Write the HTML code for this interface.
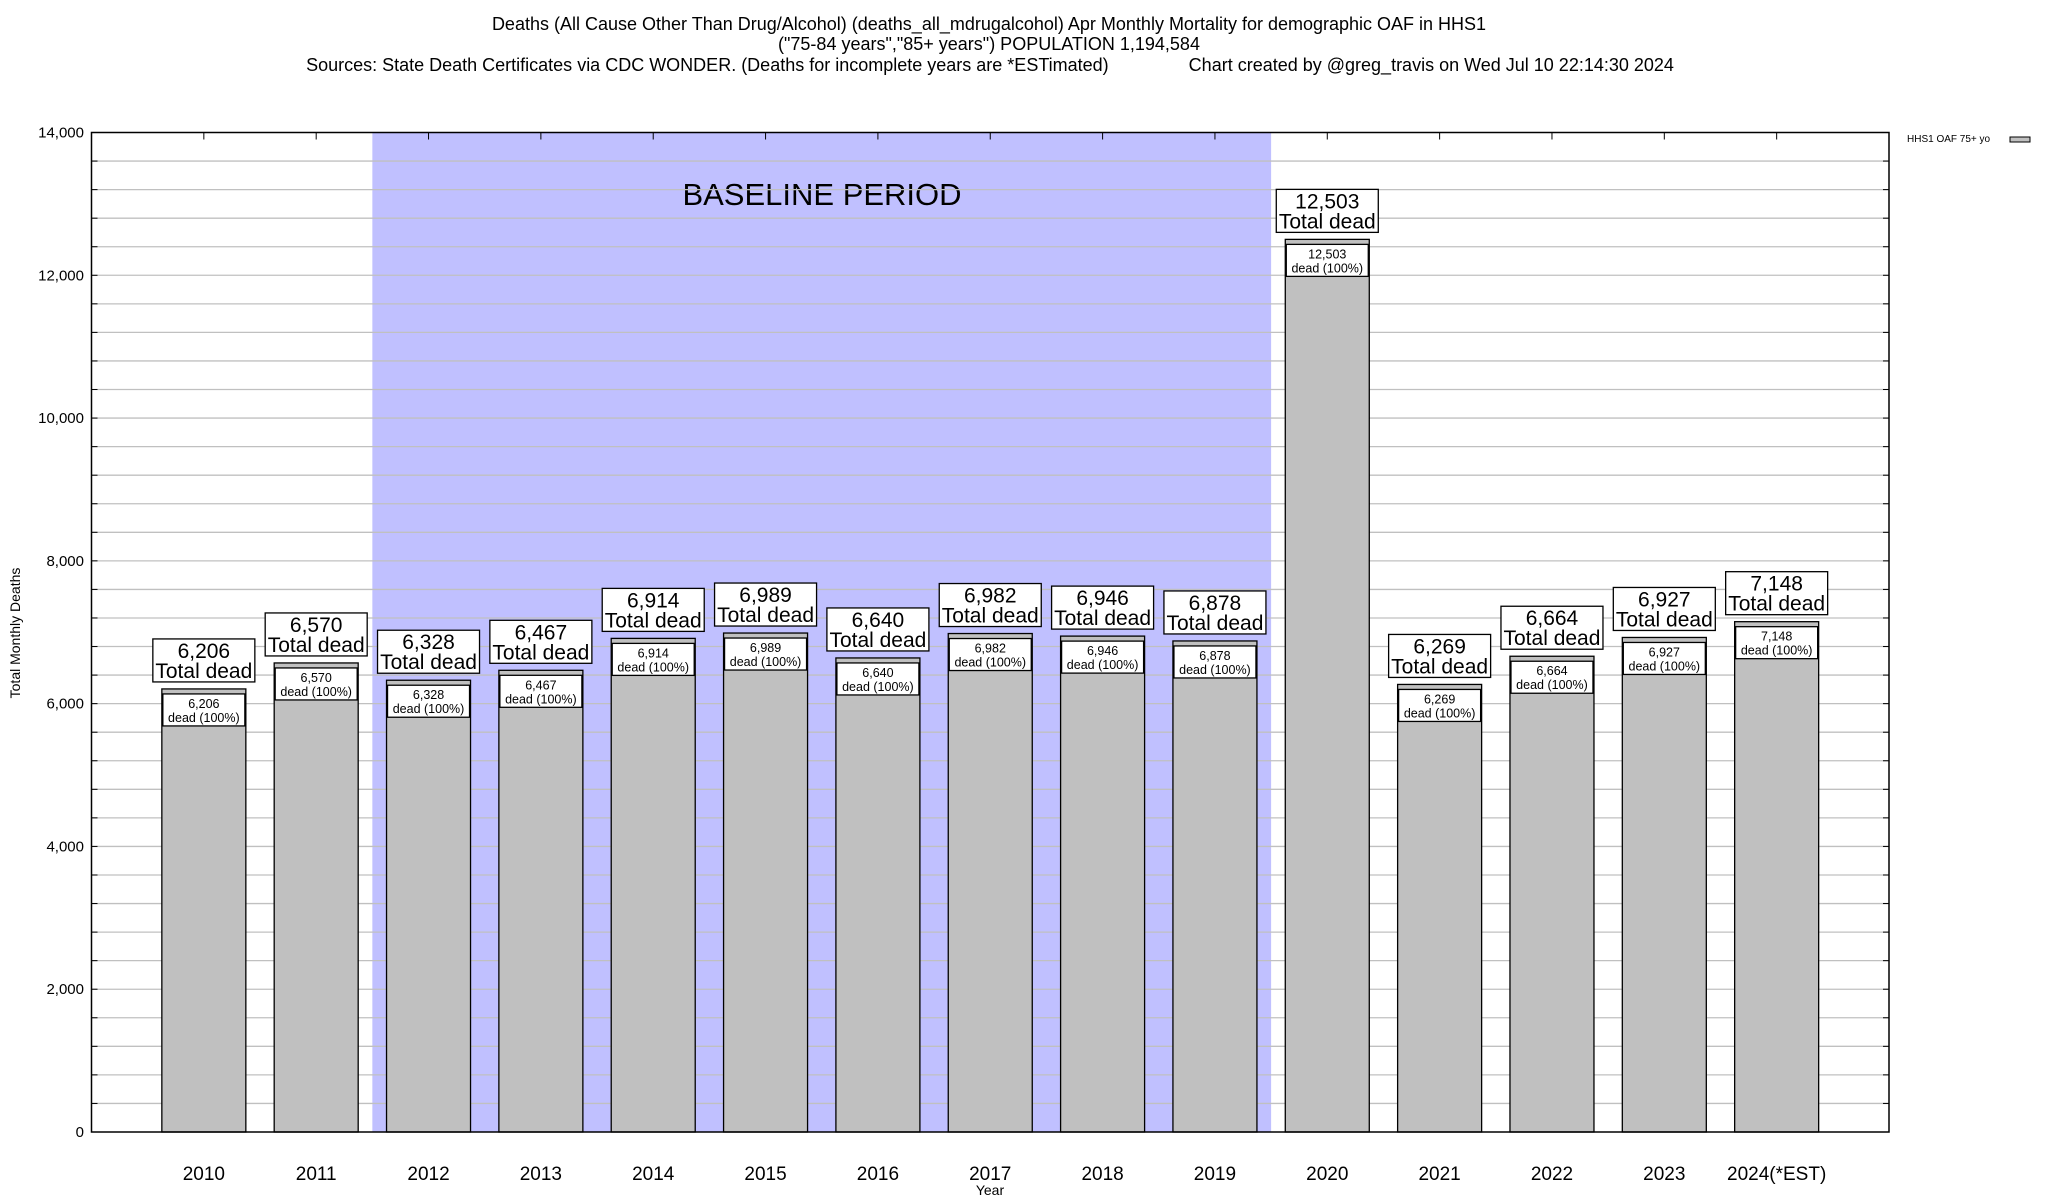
<!DOCTYPE html>
<html><head><meta charset="utf-8"><style>
body{margin:0;background:#fff;}
svg{display:block;font-family:"Liberation Sans",sans-serif;}
</style></head><body>
<svg id="chart" width="2048" height="1200" viewBox="0 0 2048 1200" xmlns="http://www.w3.org/2000/svg">
<rect width="2048" height="1200" fill="#fff"/>
<g font-size="18" text-anchor="middle" fill="#000">
<text x="989" y="30">Deaths (All Cause Other Than Drug/Alcohol) (deaths_all_mdrugalcohol) Apr Monthly Mortality for demographic OAF in HHS1</text>
<text x="989" y="50">("75-84 years","85+ years") POPULATION 1,194,584</text>
<text x="990" y="71" text-anchor="middle" xml:space="preserve">Sources: State Death Certificates via CDC WONDER. (Deaths for incomplete years are *ESTimated)                Chart created by @greg_travis on Wed Jul 10 22:14:30 2024</text>
</g>
<g id="plot"></g>
<text transform="translate(20,633) rotate(-90)" text-anchor="middle" font-size="14">Total Monthly Deaths</text>
<text x="990" y="1195" text-anchor="middle" font-size="14">Year</text>
<g>
<text x="1907" y="142" font-size="10">HHS1 OAF 75+ yo</text>
<rect x="2010" y="137" width="20" height="5" fill="#c0c0c0" stroke="#000" stroke-width="1"/>
</g>
</svg>
<script>
const categories=["2010","2011","2012","2013","2014","2015","2016","2017","2018","2019","2020","2021","2022","2023","2024(*EST)"];
const values=[6206,6570,6328,6467,6914,6989,6640,6982,6946,6878,12503,6269,6664,6927,7148];
const yTicks=[0,2000,4000,6000,8000,10000,12000,14000];
const yTickLabels=["0","2,000","4,000","6,000","8,000","10,000","12,000","14,000"];
const baselineRange=["2012","2019"];

const L=91.5,R=1889,T=132.5,B=1132,YMAX=14000;
const slot=(R-L)/(categories.length+1);
const x=i=>L+(i+1)*slot;
const y=v=>B-(v/YMAX)*(B-T);
const NS="http://www.w3.org/2000/svg";
const g=document.getElementById('plot');
function mk(tag,attrs,parent){const e=document.createElementNS(NS,tag);for(const k in attrs)e.setAttribute(k,attrs[k]);(parent||g).appendChild(e);return e;}
const fmt=v=>v.toLocaleString('en-US');

// baseline band
const b0=categories.indexOf(baselineRange[0]),b1=categories.indexOf(baselineRange[1]);
const band=mk('rect',{x:x(b0)-slot/2,y:T,width:(b1-b0+1)*slot,height:B-T,fill:'#c0c0ff'});


const bl=mk('text',{x:822,y:205,'font-size':31,'text-anchor':'middle'});
bl.textContent='BASELINE PERIOD';



// grid every 400
for(let v=400;v<YMAX;v+=400){
  const gl=mk('line',{x1:L,x2:R,y1:y(v),y2:y(v),stroke:'#c0c0c0','stroke-width':1.3});
  
  
  mk('line',{x1:L,x2:L+6,y1:y(v),y2:y(v),stroke:'#000'});
  mk('line',{x1:R,x2:R-6,y1:y(v),y2:y(v),stroke:'#000'});
}
// y tick labels
yTicks.forEach((v,i)=>{
  const t=mk('text',{x:84,y:y(v)+5,'font-size':15,'text-anchor':'end'});
  t.textContent=yTickLabels[i];
  
  
});
// bars
const bw=84;
values.forEach((v,i)=>{
  const cx=x(i);
  const bar=mk('rect',{x:cx-bw/2,y:y(v),width:bw,height:B-y(v),fill:'#c0c0c0',stroke:'#000','stroke-width':1.3});
  
  
  mk('line',{x1:cx,x2:cx,y1:T,y2:T+7,stroke:'#000'});
  // inner label
  const ib=mk('rect',{x:cx-41,y:y(v)+5,width:82,height:32,fill:'#fff',stroke:'#000','stroke-width':1.3});
  
  
  const t1=mk('text',{x:cx,y:y(v)+19,'font-size':12.5,'text-anchor':'middle'});
  t1.textContent=fmt(v);
  
  
  const t2=mk('text',{x:cx,y:y(v)+33,'font-size':12.5,'text-anchor':'middle'});
  t2.textContent='dead (100%)';
  
  
  // outer label
  const oy=y(v)-50;
  const ob=mk('rect',{x:cx-51,y:oy,width:102,height:43,fill:'#fff',stroke:'#000','stroke-width':1.3});
  
  
  const o1=mk('text',{x:cx,y:oy+19,'font-size':21,'text-anchor':'middle'});
  o1.textContent=fmt(v);
  
  
  const o2=mk('text',{x:cx,y:oy+39,'font-size':21,'text-anchor':'middle'});
  o2.textContent='Total dead';
  
  
  const xl=mk('text',{x:cx,y:1180,'font-size':19,'text-anchor':'middle'});
  xl.textContent=categories[i];
  
  
});
const frame=mk('rect',{x:L,y:T,width:R-L,height:B-T,fill:'none',stroke:'#000','stroke-width':1.5});


</script>
</body></html>
